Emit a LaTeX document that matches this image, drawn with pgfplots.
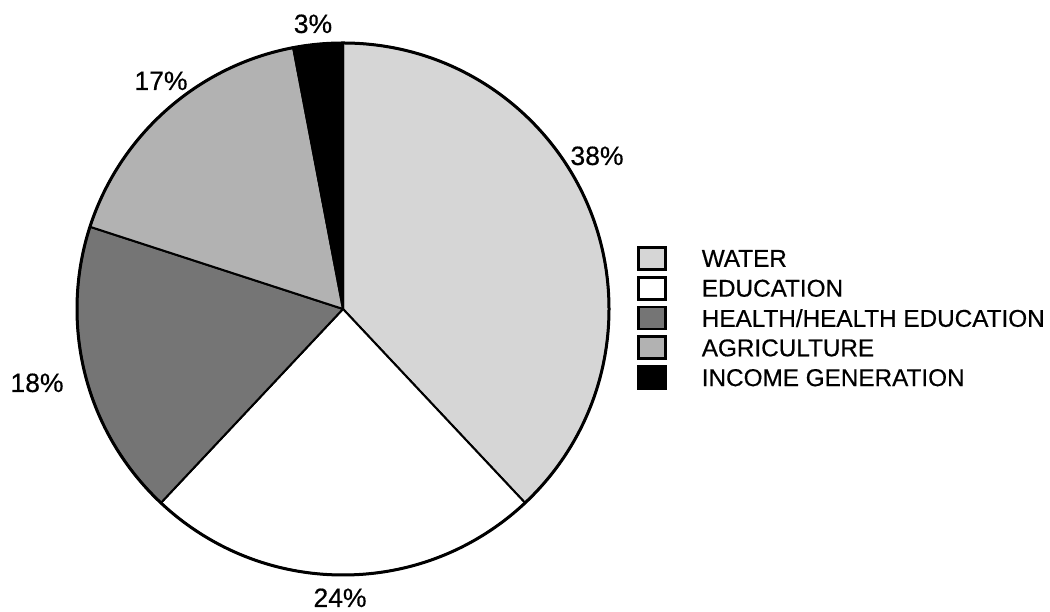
\documentclass[border=0pt]{standalone}
\usepackage{fontspec}
\setmainfont{Liberation Sans}[FakeBold=0.6]
\newfontfamily\lblfont{Liberation Sans}[FakeBold=0.5]
\usepackage{pgfplots}
\usepackage{pgfplotstable}
\pgfplotsset{compat=1.18}
\definecolor{cWater}{gray}{0.84}
\definecolor{cEdu}{gray}{1.00}
\definecolor{cHealth}{gray}{0.46}
\definecolor{cAgri}{gray}{0.70}
\definecolor{cIncome}{gray}{0.00}

\pgfplotstableread{
name value fill lx ly
WATER 38 cWater 597 447
EDUCATION 24 cEdu 340 5
HEALTH 18 cHealth 37 220
AGRICULTURE 17 cAgri 161 522
INCOME 3 cIncome 313 579
}\piedata

\begin{document}
\begin{tikzpicture}
\begin{axis}[
  scale only axis, width=1050pt, height=612pt,
  xmin=0, xmax=1050, ymin=0, ymax=612,
  hide axis, clip=false,
  legend image code/.code={\draw[#1,draw=black,line width=2.8pt] (0pt,-11pt) rectangle (27pt,11pt);},
  legend cell align=left,
  legend style={at={(axis cs:637,366)}, anchor=north west, draw=none, fill=none,
    inner sep=0pt, outer sep=0pt, column sep=35pt, row sep=5pt,
    nodes={inner sep=0pt, text depth=0pt},
    font=\lblfont\fontsize{24.3}{28}\selectfont},
]
\def\cum{90}
\pgfplotsforeachungrouped \i in {0,...,4}{%
  \pgfplotstablegetelem{\i}{value}\of\piedata \let\v=\pgfplotsretval
  \pgfplotstablegetelem{\i}{fill}\of\piedata \let\f=\pgfplotsretval
  \pgfplotstablegetelem{\i}{lx}\of\piedata \let\lx=\pgfplotsretval
  \pgfplotstablegetelem{\i}{ly}\of\piedata \let\ly=\pgfplotsretval
  \pgfmathsetmacro\e{\cum-3.6*\v}%
  \edef\cmd{\noexpand\filldraw[fill=\f, draw=black, line width=2pt, line join=round]
    (axis cs:343,303) -- ([shift={(\cum:266pt)}]axis cs:343,303)
    arc[start angle=\cum, end angle=\e, radius=266pt] -- cycle;
    \noexpand\node[anchor=base, inner sep=0pt, font=\noexpand\lblfont\noexpand\fontsize{26.5}{30}\noexpand\selectfont] at (axis cs:\lx,\ly) {\v\noexpand\%};}%
  \cmd
  \global\let\cum\e
}
\draw[line width=3pt] (axis cs:343,303) circle[radius=266pt];
\addlegendimage{fill=cWater}\addlegendentry{WATER}
\addlegendimage{fill=cEdu}\addlegendentry{EDUCATION}
\addlegendimage{fill=cHealth}\addlegendentry{HEALTH/HEALTH EDUCATION}
\addlegendimage{fill=cAgri}\addlegendentry{AGRICULTURE}
\addlegendimage{fill=cIncome}\addlegendentry{INCOME GENERATION}
\end{axis}
\pgfresetboundingbox
\path (current axis.south west) rectangle (current axis.north east);
\end{tikzpicture}
\end{document}
